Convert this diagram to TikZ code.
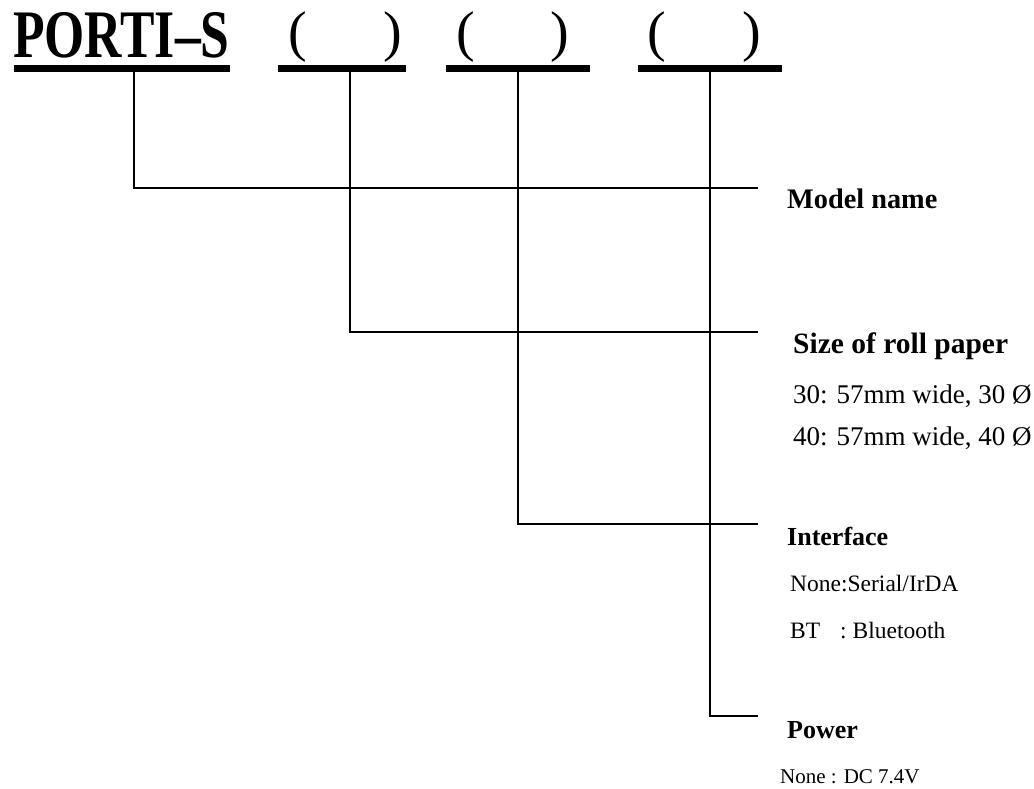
\documentclass[tikz,border=0pt]{standalone}
\usepackage{fontspec}
\setmainfont{Liberation Serif}
\begin{document}
\begin{tikzpicture}[x=1pt,y=-1pt,
  bar/.style={line width=7pt},
  conn/.style={line width=1.8pt},
  head/.style={anchor=base west, inner sep=0pt, font=\bfseries\fontsize{#1}{#1}\selectfont},
  txt/.style={anchor=base west, inner sep=0pt, font=\fontsize{#1}{#1}\selectfont},
  par/.style={anchor=base, inner sep=0pt, font=\fontsize{56}{56}\selectfont}]
\useasboundingbox (0,0) rectangle (1034,789);
% title
\node[head=68, xscale=0.76] (title) at (13,58) {PORTI–S};
\node[par] (p1l) at (298,51) {(};
\node[par] (p1r) at (393,51) {)};
\node[par] (p2l) at (466,51) {(};
\node[par] (p2r) at (560,51) {)};
\node[par] (p3l) at (657,51) {(};
\node[par] (p3r) at (752,51) {)};
% bars
\draw[bar] (14,68.5) -- (230,68.5);
\draw[bar] (278,68.5) -- (406,68.5);
\draw[bar] (446,68.5) -- (590,68.5);
\draw[bar] (638,68.5) -- (782,68.5);
% anchors
\coordinate (b1) at (134,68.5);
\coordinate (b2) at (350,68.5);
\coordinate (b3) at (518,68.5);
\coordinate (b4) at (710,68.5);
\coordinate (e1) at (758,188);
\coordinate (e2) at (758,332);
\coordinate (e3) at (758,524);
\coordinate (e4) at (758,716);
% connectors
\draw[conn] (b1) |- (e1);
\draw[conn] (b2) |- (e2);
\draw[conn] (b3) |- (e3);
\draw[conn] (b4) |- (e4);
% labels
\node[head=28.3] (model) at (787,208) {Model name};
\node[head=29.5] (size) at (793,353) {Size of roll paper};
\node[txt=27] (s30) at (793,403) {30: 57mm wide, 30 Ø};
\node[txt=27] (s40) at (793,445) {40: 57mm wide, 40 Ø};
\node[head=26] (iface) at (787,545) {Interface};
\node[txt=23.5] (ser) at (790,591) {None:Serial/IrDA};
\node[txt=23.5] (bt) at (790,638) {BT\hspace{20pt}: Bluetooth};
\node[head=26] (power) at (787,738) {Power};
\node[txt=21] (dc) at (780,783) {None : DC 7.4V};
\end{tikzpicture}
\end{document}
